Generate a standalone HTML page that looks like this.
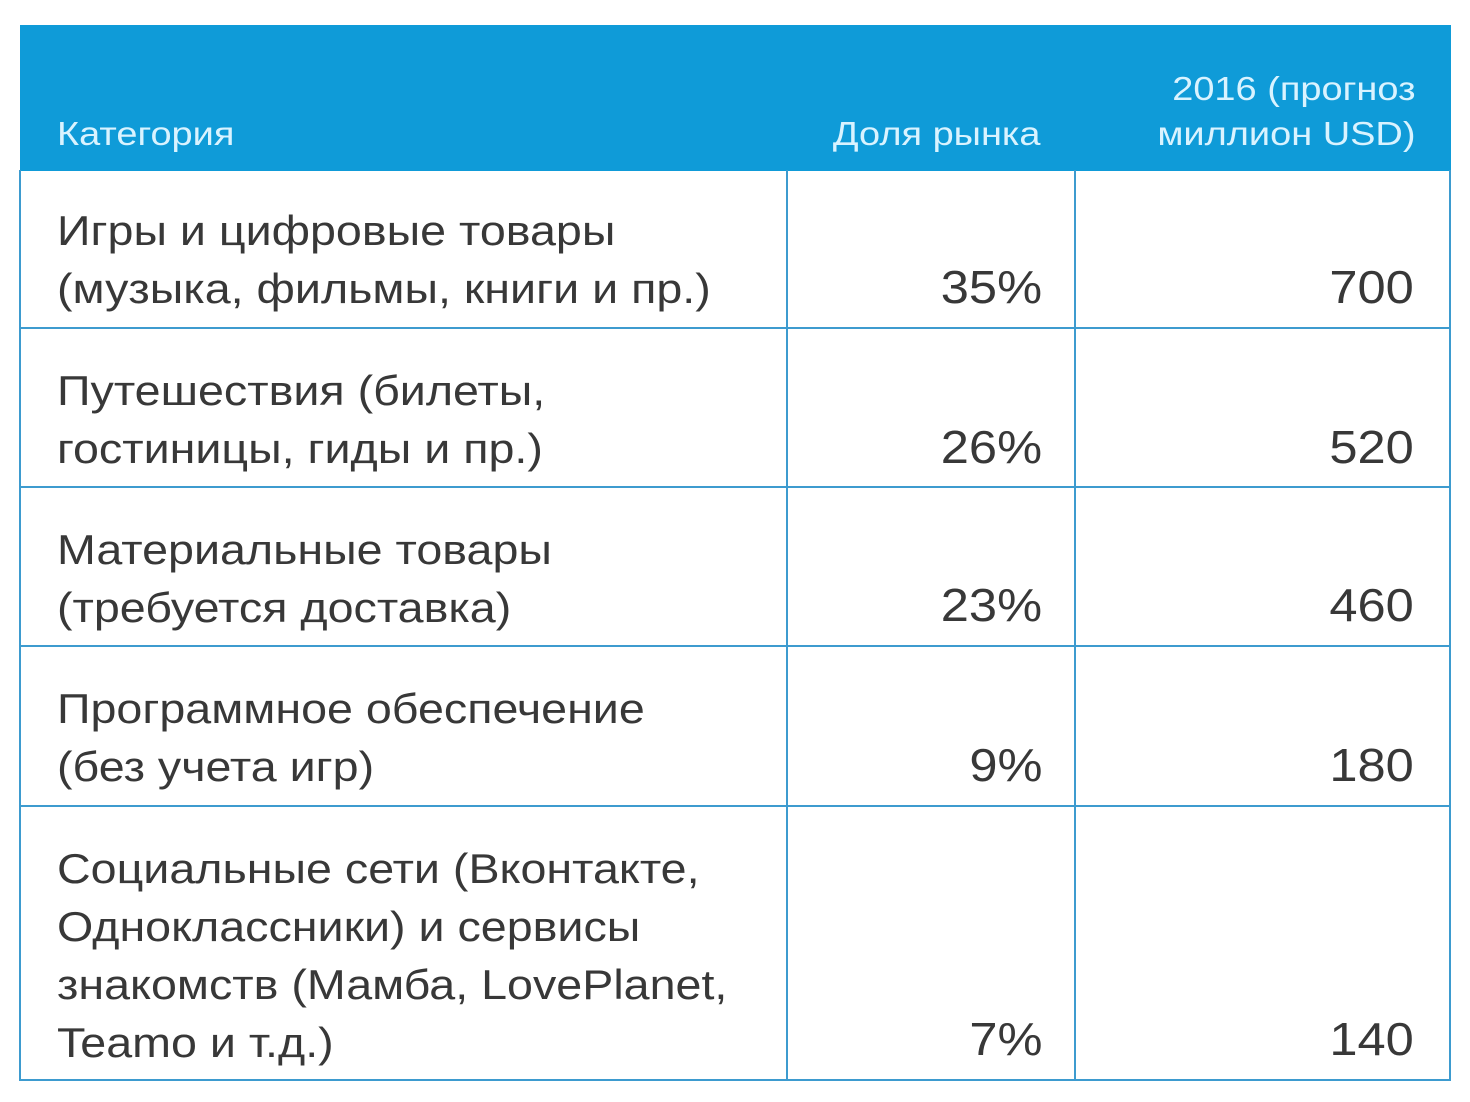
<!DOCTYPE html>
<html><head><meta charset="utf-8"><style>
body{margin:0;width:1470px;height:1102px;background:#fff;position:relative;overflow:hidden;font-family:"Liberation Sans","DejaVu Sans",sans-serif;}
.hd{position:absolute;left:20px;top:25px;width:1431px;height:146px;background:#0f9bd8;}
.h{position:absolute;color:#d9f3ff;font-size:33px;line-height:45px;white-space:nowrap;transform:scaleX(1.15);}
.l{position:absolute;background:#3d9bcf;}
.t{position:absolute;left:57px;color:#383838;font-size:42px;line-height:58px;white-space:nowrap;transform:scaleX(1.11);transform-origin:left top;}
.n{position:absolute;color:#383838;font-size:46px;line-height:58px;text-align:right;white-space:nowrap;transform:scaleX(1.1);transform-origin:right top;}
</style></head><body>
<div class="hd"></div>
<div class="h" style="left:57px;top:111px;transform-origin:left top">Категория</div>
<div class="h" style="right:430px;top:111px;transform-origin:right top">Доля рынка</div>
<div class="h" style="right:55px;top:66px;text-align:right;transform-origin:right top">2016 (прогноз<br>миллион USD)</div>

<div class="l" style="left:19px;top:170px;width:2px;height:911px"></div>
<div class="l" style="left:1449px;top:170px;width:2px;height:911px"></div>
<div class="l" style="left:786px;top:170px;width:2px;height:911px"></div>
<div class="l" style="left:1074px;top:170px;width:2px;height:911px"></div>
<div class="l" style="left:19px;top:327px;width:1432px;height:2px"></div>
<div class="l" style="left:19px;top:486px;width:1432px;height:2px"></div>
<div class="l" style="left:19px;top:645px;width:1432px;height:2px"></div>
<div class="l" style="left:19px;top:805px;width:1432px;height:2px"></div>
<div class="l" style="left:19px;top:1079px;width:1432px;height:2px"></div>

<div class="t" style="top:202px">Игры и цифровые товары<br>(музыка, фильмы, книги и пр.)</div>
<div class="n" style="right:428px;top:258px">35%</div><div class="n" style="right:56px;top:258px">700</div>

<div class="t" style="top:362px">Путешествия (билеты,<br>гостиницы, гиды и пр.)</div>
<div class="n" style="right:428px;top:418px">26%</div><div class="n" style="right:56px;top:418px">520</div>

<div class="t" style="top:521px">Материальные товары<br>(требуется доставка)</div>
<div class="n" style="right:428px;top:576px">23%</div><div class="n" style="right:56px;top:576px">460</div>

<div class="t" style="top:680px">Программное обеспечение<br>(без учета игр)</div>
<div class="n" style="right:428px;top:736px">9%</div><div class="n" style="right:56px;top:736px">180</div>

<div class="t" style="top:840px">Социальные сети (Вконтакте,<br>Одноклассники) и сервисы<br>знакомств (Мамба, LovePlanet,<br>Teamo и т.д.)</div>
<div class="n" style="right:428px;top:1010px">7%</div><div class="n" style="right:56px;top:1010px">140</div>
</body></html>
